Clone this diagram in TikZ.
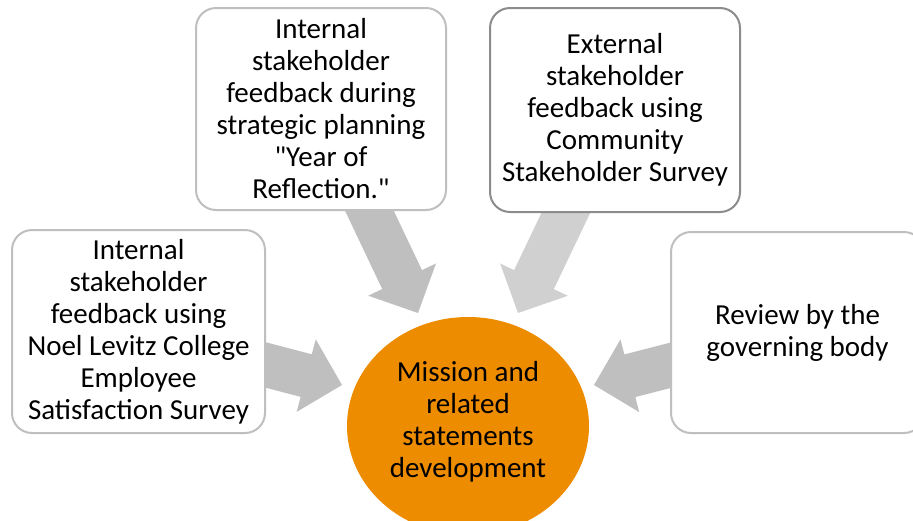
\documentclass[tikz,border=0pt]{standalone}
\usepackage{fontspec}
\setmainfont{Carlito}[Ligatures=TeXOff]
\usetikzlibrary{shapes.geometric,calc}
\pgfdeclarelayer{paper}
\pgfdeclarelayer{back}
\pgfsetlayers{paper,back,main}
\definecolor{boxline}{RGB}{191,191,191}
\definecolor{boxlinedark}{RGB}{140,140,140}
\definecolor{arrowgray}{RGB}{191,191,191}
\definecolor{arrowlight}{RGB}{208,208,208}
\definecolor{hubfill}{RGB}{238,140,0}
\tikzset{
  card/.style={draw=boxline, line width=2pt, fill=white, rounded corners=20pt,
    align=center, inner sep=0pt, font=\fontsize{29}{32}\selectfont},
  hub/.style={ellipse, fill=hubfill, inner sep=0pt, align=center,
    font=\fontsize{29}{32}\selectfont},
}
% block arrow as one filled outline: colour, start point, tip point
\newcommand\blockarrow[3]{%
  \coordinate (headbase) at ($(#3)!37pt!(#2)$);
  \fill[#1] ($(#2)!22pt!90:(#3)$) -- ($(headbase)!22pt!90:(#3)$)
    -- ($(headbase)!37.5pt!90:(#3)$) -- (#3)
    -- ($(headbase)!37.5pt!-90:(#3)$) -- ($(headbase)!22pt!-90:(#3)$)
    -- ($(#2)!22pt!-90:(#3)$) -- cycle;
}
\begin{document}
\begin{tikzpicture}[x=1pt,y=-1pt]
\useasboundingbox (0,0) rectangle (913,520);
\clip (0,0) rectangle (913,520);
\begin{pgfonlayer}{paper}
  \fill[white] (0,0) rectangle (913,520);
\end{pgfonlayer}

% input boxes
\node[card, minimum width=250pt, minimum height=202pt] (reflect) at (321,109)
  {Internal\\stakeholder\\feedback during\\strategic planning\\"Year of\\Reflection."};
\node[card, draw=boxlinedark, minimum width=250pt, minimum height=204pt] (external) at (615,110)
  {External\\stakeholder\\feedback using\\Community\\Stakeholder Survey};
\node[card, minimum width=253pt, minimum height=203pt] (noel) at (138.5,331.5)
  {Internal\\stakeholder\\feedback using\\Noel Levitz College\\Employee\\Satisfaction Survey};
\node[card, minimum width=253pt, minimum height=201pt] (board) at (797.5,332.5)
  {Review by the\\governing body};

% central outcome
\node[hub, minimum width=242pt, minimum height=218pt, text depth=14pt] (mission) at (468,426)
  {Mission and\\related\\statements\\development};

% arrow tips in front of the ellipse
\coordinate (tipA) at (418,313);
\coordinate (tipB) at (518,313);
\coordinate (tipC) at (342,385);
\coordinate (tipD) at (594,385);

% block arrows behind the boxes
\begin{pgfonlayer}{back}
  \blockarrow{arrowgray}{reflect.center}{tipA}
  \blockarrow{arrowlight}{external.center}{tipB}
  \blockarrow{arrowgray}{noel.center}{tipC}
  \blockarrow{arrowgray}{board.center}{tipD}
\end{pgfonlayer}
\end{tikzpicture}
\end{document}
